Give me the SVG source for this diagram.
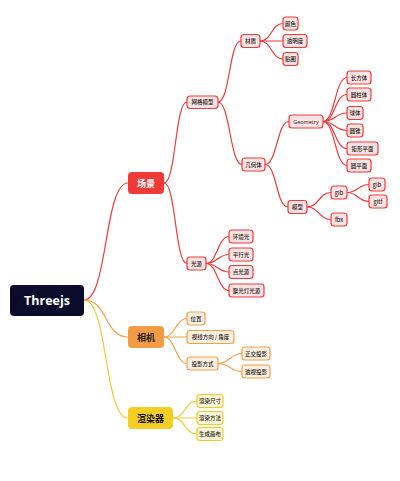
<svg xmlns="http://www.w3.org/2000/svg" width="400" height="481" viewBox="0 0 400 481">
<style>
text{font-family:"Noto Sans CJK SC","Noto Sans",sans-serif;text-anchor:middle;dominant-baseline:central}
.s{font-size:5.5px;fill:#222;font-weight:500}
.r rect{fill:#fde3e3;stroke:#f03a3a;stroke-width:1.2}
.o rect{fill:#fdf0e1;stroke:#f3a04e;stroke-width:1.2}
.y rect{fill:#fff7d6;stroke:#f0ca2a;stroke-width:1.2}
.m{font-size:9px;font-weight:bold}
#conn path{fill:none;stroke-linecap:round}
.cr{stroke:#f03a3a;stroke-width:1.2}
.co{stroke:#f3a04e;stroke-width:1.2}
.cy{stroke:#f0ca2a;stroke-width:1.2}
</style>
<rect width="400" height="481" fill="#fff"/>
<g id="conn">
<path class="cr" stroke-width="1.5" d="M84,300 C108,300 104,183 128,183"/>
<path class="co" stroke-width="1.5" d="M84,300 C108,300 104,337 128,337"/>
<path class="cy" stroke-width="1.5" d="M84,300 C108,300 104,418 128,418"/>
<path class="cr" d="M164,183 C176,183 175,102 187,102"/>
<path class="cr" d="M164,183 C176,183 175,263.5 187,263.5"/>
<path class="cr" d="M218,102 C230,102 229,41 241,41"/>
<path class="cr" d="M218,102 C230,102 230,164.5 242,164.5"/>
<path class="cr" d="M260,41 C272,41 271,23.5 283,23.5"/>
<path class="cr" d="M260,41 L283,41"/>
<path class="cr" d="M260,41 C272,41 271,59 283,59"/>
<path class="cr" d="M265,164.5 C277,164.5 277,121.5 289,121.5"/>
<path class="cr" d="M265,164.5 C277,164.5 276,207 288,207"/>
<path class="cr" d="M323,121.5 C335,121.5 335,77.5 347,77.5"/>
<path class="cr" d="M323,121.5 C335,121.5 335,94.5 347,94.5"/>
<path class="cr" d="M323,121.5 C335,121.5 335,113 347,113"/>
<path class="cr" d="M323,121.5 C335,121.5 335,130.5 347,130.5"/>
<path class="cr" d="M323,121.5 C335,121.5 335,148.5 347,148.5"/>
<path class="cr" d="M323,121.5 C335,121.5 335,165.5 347,165.5"/>
<path class="cr" d="M307,207 C319,207 319,192.5 331,192.5"/>
<path class="cr" d="M307,207 C319,207 319,219.5 331,219.5"/>
<path class="cr" d="M347,192.5 C358,192.5 358,184.5 369,184.5"/>
<path class="cr" d="M347,192.5 C358,192.5 358,201.5 369,201.5"/>
<path class="cr" d="M206,263.5 C217,263.5 218,236.5 229,236.5"/>
<path class="cr" d="M206,263.5 C217,263.5 218,254.5 229,254.5"/>
<path class="cr" d="M206,263.5 C217,263.5 218,272 229,272"/>
<path class="cr" d="M206,263.5 C217,263.5 218,290.5 229,290.5"/>
<path class="co" d="M164,337 C175,337 176,318.5 187,318.5"/>
<path class="co" d="M164,337 L187,337"/>
<path class="co" d="M164,337 C175,337 176,363.5 187,363.5"/>
<path class="co" d="M218,363.5 C230,363.5 230,353.5 242,353.5"/>
<path class="co" d="M218,363.5 C230,363.5 230,371.5 242,371.5"/>
<path class="cy" d="M173,418 C185,418 185,401 197,401"/>
<path class="cy" d="M173,418 L197,418"/>
<path class="cy" d="M173,418 C185,418 185,434 197,434"/>
</g>
<g id="root"><rect x="10" y="285" width="74" height="31" rx="4" fill="#0b0b2c"/><text x="47" y="300.5" font-size="12.5" font-weight="bold" fill="#fff" style="font-family:'Open Sans','Noto Sans',sans-serif">Threejs</text></g>
<g id="n-scene"><rect x="128" y="172" width="36" height="22" rx="4" fill="#ef3a37"/><text class="m" x="146" y="183" fill="#fff">场景</text></g>
<g id="n-camera"><rect x="128" y="326" width="36" height="22" rx="4" fill="#f39c46"/><text class="m" x="146" y="337" fill="#222">相机</text></g>
<g id="n-renderer"><rect x="128" y="407" width="45" height="22" rx="4" fill="#f3cf26"/><text class="m" x="150.5" y="418" fill="#111">渲染器</text></g>
<g id="n-mesh" class="r"><rect x="187" y="96" width="31" height="12.5" rx="3"/><text class="s" x="202.5" y="102">网格模型</text></g>
<g id="n-material" class="r"><rect x="241" y="34.5" width="19" height="13" rx="3"/><text class="s" x="250.5" y="41">材质</text></g>
<g id="n-color" class="r"><rect x="283" y="17" width="15" height="13" rx="3"/><text class="s" x="290.5" y="23.5">颜色</text></g>
<g id="n-opacity" class="r"><rect x="283" y="34.5" width="24" height="13" rx="3"/><text class="s" x="295" y="41">透明度</text></g>
<g id="n-texture" class="r"><rect x="283" y="52.5" width="15" height="13" rx="3"/><text class="s" x="290.5" y="59">贴图</text></g>
<g id="n-geo" class="r"><rect x="242" y="158" width="23" height="13" rx="3"/><text class="s" x="253.5" y="164.5">几何体</text></g>
<g id="n-geometry" class="r"><rect x="289" y="115" width="34" height="13" rx="3"/><text class="s" x="306" y="121.5" style="font-family:'Open Sans',sans-serif">Geometry</text></g>
<g id="n-box" class="r"><rect x="347" y="71" width="24" height="13" rx="3"/><text class="s" x="359" y="77.5">长方体</text></g>
<g id="n-cyl" class="r"><rect x="347" y="88" width="24" height="13" rx="3"/><text class="s" x="359" y="94.5">圆柱体</text></g>
<g id="n-sphere" class="r"><rect x="347" y="106.5" width="16" height="13" rx="3"/><text class="s" x="355" y="113">球体</text></g>
<g id="n-cone" class="r"><rect x="347" y="124" width="16" height="13" rx="3"/><text class="s" x="355" y="130.5">圆锥</text></g>
<g id="n-plane" class="r"><rect x="347" y="142" width="31" height="13" rx="3"/><text class="s" x="362.5" y="148.5">矩形平面</text></g>
<g id="n-circle" class="r"><rect x="347" y="159" width="24" height="13" rx="3"/><text class="s" x="359" y="165.5">圆平面</text></g>
<g id="n-model" class="r"><rect x="288" y="200.5" width="19" height="13" rx="3"/><text class="s" x="297.5" y="207">模型</text></g>
<g id="n-glb" class="r"><rect x="331" y="186" width="16" height="13" rx="3"/><text class="s" x="339" y="192.5">glb</text></g>
<g id="n-fbx" class="r"><rect x="331" y="213" width="16" height="13" rx="3"/><text class="s" x="339" y="219.5">fbx</text></g>
<g id="n-glb2" class="r"><rect x="369" y="178" width="16" height="13" rx="3"/><text class="s" x="377" y="184.5">glb</text></g>
<g id="n-gltf" class="r"><rect x="369" y="195" width="18" height="13" rx="3"/><text class="s" x="378" y="201.5">gltf</text></g>
<g id="n-light" class="r"><rect x="187" y="257" width="19" height="13" rx="3"/><text class="s" x="196.5" y="263.5">光源</text></g>
<g id="n-ambient" class="r"><rect x="229" y="230" width="24" height="13" rx="3"/><text class="s" x="241" y="236.5">环境光</text></g>
<g id="n-dir" class="r"><rect x="229" y="248" width="24" height="13" rx="3"/><text class="s" x="241" y="254.5">平行光</text></g>
<g id="n-point" class="r"><rect x="229" y="265.5" width="24" height="13" rx="3"/><text class="s" x="241" y="272">点光源</text></g>
<g id="n-spot" class="r"><rect x="229" y="284" width="35" height="13" rx="3"/><text class="s" x="246.5" y="290.5">聚光灯光源</text></g>
<g id="n-pos" class="o"><rect x="187" y="312" width="18" height="13" rx="3"/><text class="s" x="196" y="318.5">位置</text></g>
<g id="n-view" class="o"><rect x="187" y="330.5" width="47" height="13" rx="3"/><text class="s" x="210.5" y="337">视线方向 / 角度</text></g>
<g id="n-proj" class="o"><rect x="187" y="357" width="31" height="13" rx="3"/><text class="s" x="202.5" y="363.5">投影方式</text></g>
<g id="n-ortho" class="o"><rect x="242" y="347" width="28" height="13" rx="3"/><text class="s" x="256" y="353.5">正交投影</text></g>
<g id="n-persp" class="o"><rect x="242" y="365" width="28" height="13" rx="3"/><text class="s" x="256" y="371.5">透视投影</text></g>
<g id="n-size" class="y"><rect x="197" y="394.5" width="26" height="13" rx="3"/><text class="s" x="210" y="401">渲染尺寸</text></g>
<g id="n-method" class="y"><rect x="197" y="411.5" width="26" height="13" rx="3"/><text class="s" x="210" y="418">渲染方法</text></g>
<g id="n-canvas" class="y"><rect x="197" y="427.5" width="26" height="13" rx="3"/><text class="s" x="210" y="434">生成画布</text></g>
</svg>
